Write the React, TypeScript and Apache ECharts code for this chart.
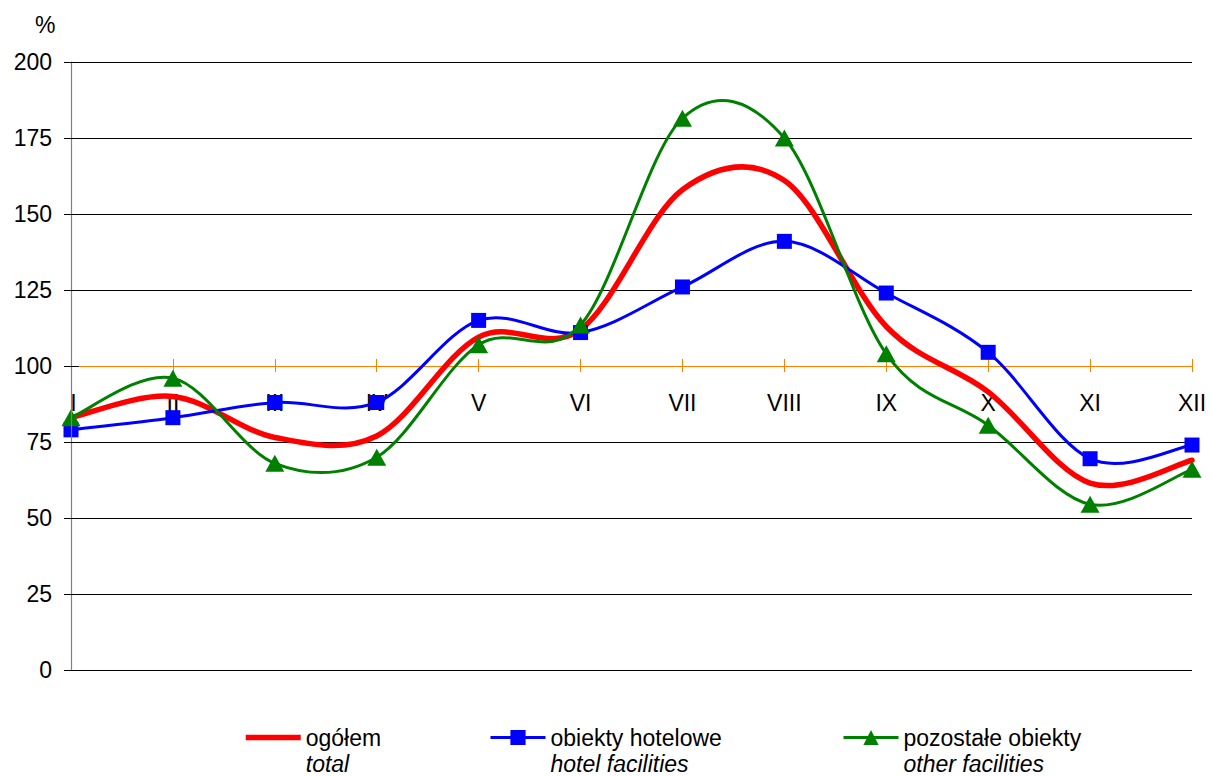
import React, { useEffect, useRef } from "react";
import * as echarts from "echarts";

const months = ["I", "II", "III", "IV", "V", "VI", "VII", "VIII", "IX", "X", "XI", "XII"];
const totalValues = [83, 90, 76.5, 77, 109.5, 112, 158, 161, 113, 91.5, 61.5, 69];
const hotelValues = [79, 83, 88, 88, 115, 111, 126, 141, 124, 104.5, 69.5, 74];
const otherValues = [83, 96, 68, 70, 107, 113.5, 181.5, 175, 104, 80.5, 54.5, 66];
const seriesNamesPl = ["ogółem", "obiekty hotelowe", "pozostałe obiekty"];
const seriesNamesEn = ["total", "hotel facilities", "other facilities"];
const yMin = 0;
const yMax = 200;
const yStep = 25;
const baseValue = 100;

const FONT = "'Liberation Sans', Arial, Helvetica, sans-serif";
const COLORS = ["#ff0000", "#0000ff", "#008000"];
const WIDTHS = [5.5, 3, 3];

// Excel-like smoothed curve (Catmull-Rom, 1/6 tangent factor) through data points,
// positioned with the chart's own scales via api.coord.
function curveSeries(values: number[], color: string, width: number, z: number, id: string) {
  return {
    id,
    name: id,
    type: "custom",
    coordinateSystem: "cartesian2d",
    xAxisIndex: 0,
    yAxisIndex: 0,
    silent: true,
    z,
    data: values.map((v, i) => [i, v]),
    renderItem: (params: any, api: any) => {
      if (params.dataIndex !== 0) return null;
      const pts: number[][] = values.map((v, i) => api.coord([i, v]));
      let d = `M${pts[0][0]},${pts[0][1]}`;
      for (let i = 0; i < pts.length - 1; i++) {
        const p0 = pts[i - 1] || pts[i];
        const p1 = pts[i];
        const p2 = pts[i + 1];
        const p3 = pts[i + 2] || pts[i + 1];
        const c1x = p1[0] + (p2[0] - p0[0]) / 6;
        const c1y = p1[1] + (p2[1] - p0[1]) / 6;
        const c2x = p2[0] - (p3[0] - p1[0]) / 6;
        const c2y = p2[1] - (p3[1] - p1[1]) / 6;
        d += ` C${c1x},${c1y} ${c2x},${c2y} ${p2[0]},${p2[1]}`;
      }
      return {
        type: "path",
        shape: { pathData: d },
        style: { fill: "none", stroke: color, lineWidth: width, lineJoin: "round", lineCap: "round" },
      };
    },
  };
}

export default function App() {
  const ref = useRef<HTMLDivElement>(null);

  useEffect(() => {
    const chart = echarts.init(ref.current!, null, { renderer: "svg" });
    const gridTop = 62;
    const gridBottom = 106;
    const gridHeight = 776 - gridTop - gridBottom;
    const axisOffset = -((baseValue - yMin) / (yMax - yMin)) * gridHeight;
    const splitColors: string[] = [];
    for (let v = yMin; v <= yMax; v += yStep) splitColors.push(v === baseValue ? "#ff7f00" : "#000000");

    const legendLefts = [238, 484, 837];

    const baseCategoryAxis = {
      type: "category",
      data: months,
      boundaryGap: false,
      position: "bottom",
      offset: axisOffset,
      axisLine: { show: false, onZero: false },
      splitLine: { show: false },
      splitArea: { show: false },
    };

    chart.setOption({
      animation: false,
      backgroundColor: "#ffffff",
      textStyle: { fontFamily: FONT },
      title: {
        text: "%",
        left: 30,
        top: 8,
        textStyle: { fontFamily: FONT, fontSize: 23, fontWeight: "normal", color: "#000" },
      },
      grid: { left: 71, right: 20, top: gridTop, bottom: gridBottom, containLabel: false, show: false },
      xAxis: [
        {
          ...baseCategoryAxis,
          axisTick: { show: true, inside: false, length: 6, interval: 0, lineStyle: { color: "#ff7f00" } },
          axisLabel: { show: false },
        },
        {
          ...baseCategoryAxis,
          axisTick: { show: true, inside: true, length: 7, interval: 0, lineStyle: { color: "#ff7f00" } },
          axisLabel: { show: false },
        },
        {
          ...baseCategoryAxis,
          axisTick: { show: false },
          axisLabel: {
            interval: 0,
            margin: 25,
            fontSize: 23,
            color: "#000",
            fontFamily: FONT,
            showMinLabel: true,
            showMaxLabel: true,
            formatter: (v: string, idx: number) => (idx === 0 ? `{first|${v}}` : v),
            rich: {
              first: { fontSize: 23, color: "#000", fontFamily: FONT, padding: [0, 0, 0, 5] },
            },
          },
        },
      ],
      yAxis: [
        {
          type: "value",
          min: yMin,
          max: yMax,
          interval: yStep,
          position: "left",
          axisLine: { show: false, onZero: false },
          axisTick: { show: true, inside: false, length: 7, lineStyle: { color: "#000" } },
          axisLabel: { margin: 19, fontSize: 23, color: "#000", fontFamily: FONT },
          splitLine: { show: true, lineStyle: { color: splitColors, width: 1 } },
        },
        {
          type: "value",
          min: yMin,
          max: yMax,
          interval: yStep,
          position: "left",
          axisLine: { show: true, onZero: false, lineStyle: { color: "#808080", width: 1.2 } },
          axisTick: { show: true, inside: true, length: 8, lineStyle: { color: "#000" } },
          axisLabel: { show: false },
          splitLine: { show: false },
          z: 10,
        },
      ],
      legend: seriesNamesPl.map((name, i) => ({
        data: [
          {
            name,
            itemStyle: i === 0 ? { opacity: 0 } : { color: COLORS[i], opacity: 1 },
            lineStyle: { color: COLORS[i], width: WIDTHS[i], opacity: 1 },
          },
        ],
        left: legendLefts[i],
        top: 721,
        orient: "horizontal",
        itemWidth: 55,
        itemHeight: 19,
        selectedMode: false,
        formatter: (n: string) => `{a|${n}}\n{b|${seriesNamesEn[i]}}`,
        textStyle: {
          padding: [26, 0, 0, 0],
          rich: {
            a: { fontSize: 23, lineHeight: 26, color: "#000", fontFamily: FONT },
            b: { fontSize: 23, lineHeight: 26, color: "#000", fontStyle: "italic", fontFamily: FONT },
          },
        },
      })),
      series: [
        curveSeries(totalValues, COLORS[0], WIDTHS[0], 2, "curve-total"),
        curveSeries(hotelValues, COLORS[1], WIDTHS[1], 3, "curve-hotel"),
        curveSeries(otherValues, COLORS[2], WIDTHS[2], 5, "curve-other"),
        {
          name: seriesNamesPl[0],
          type: "line",
          data: totalValues,
          symbol: "none",
          lineStyle: { color: COLORS[0], width: 0, opacity: 0 },
          itemStyle: { color: COLORS[0] },
          z: 2,
        },
        {
          name: seriesNamesPl[1],
          type: "line",
          data: hotelValues,
          symbol: "rect",
          symbolSize: 15,
          lineStyle: { color: COLORS[1], width: 0, opacity: 0 },
          itemStyle: { color: COLORS[1] },
          z: 4,
        },
        {
          name: seriesNamesPl[2],
          type: "line",
          data: otherValues,
          symbol: "triangle",
          symbolSize: [19, 17],
          lineStyle: { color: COLORS[2], width: 0, opacity: 0 },
          itemStyle: { color: COLORS[2] },
          z: 6,
        },
      ],
    });

    return () => chart.dispose();
  }, []);

  return (
    <div
      ref={ref}
      style={{ position: "absolute", left: 0, top: 0, width: 1212, height: 776 }}
    />
  );
}
